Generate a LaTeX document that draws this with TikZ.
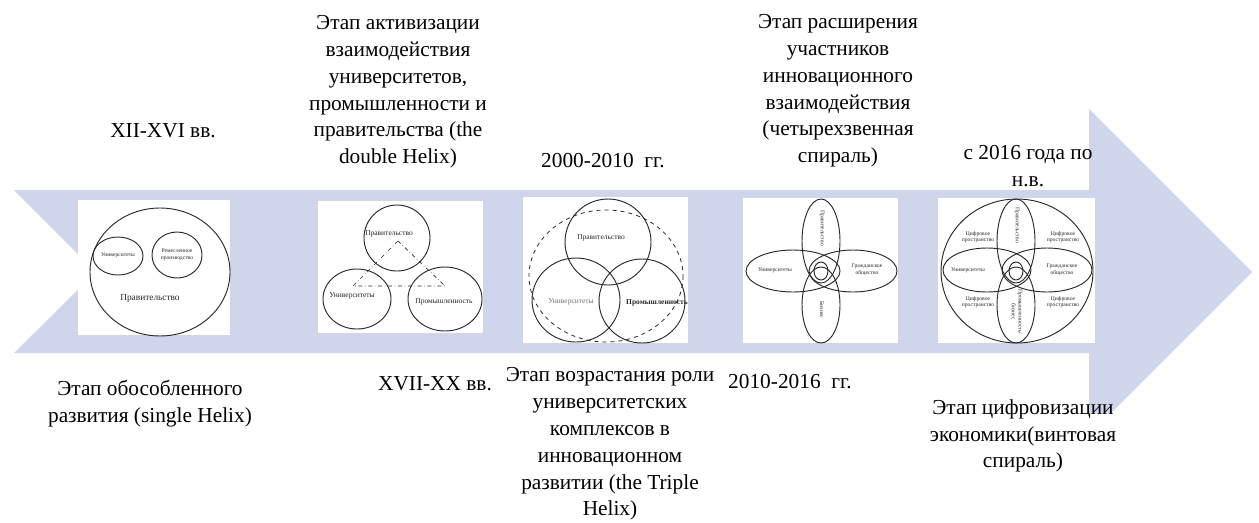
\documentclass[tikz,border=0pt]{standalone}
\usepackage{fontspec}
\setmainfont{Liberation Serif}
\definecolor{arrowfill}{RGB}{207,213,234}
\definecolor{ink}{RGB}{40,40,40}
\begin{document}
\begin{tikzpicture}[x=0.75pt,y=-0.75pt,
  lbl/.style={align=center,font=\fontsize{16}{20.1}\selectfont,inner sep=0pt},
  panel/.style={fill=white},
  ring/.style={draw=ink,line width=0.7pt},
  tinylbl/.style={font=\fontsize{4.2}{5}\selectfont,inner sep=0pt,align=center,text=ink},
  smalllbl/.style={font=\fontsize{5.6}{6.5}\selectfont,inner sep=0pt,align=center,text=ink},
]
\useasboundingbox (0,0) rectangle (1259,522);
\fill[white] (0,0) rectangle (1259,522);

% notched timeline arrow (lower tip of the head is cut off by the caption area)
\fill[arrowfill] (14,190) -- (1089,190) -- (1089,109) -- (1252,272) -- (1111,413)
  -- (1089,413) -- (1089,353) -- (14,353) -- (96,272) -- cycle;

% white picture panels
\fill[panel] (78,200) rectangle (230,335);
\fill[panel] (318,201) rectangle (483,333);
\fill[panel] (523,197) rectangle (688,343);
\fill[panel] (743,198) rectangle (898,343);
\fill[panel] (938,198) rectangle (1095,343);

% panel 1: single helix
\draw[ring] (160,272) ellipse [x radius=70, y radius=64];
\draw[ring] (118,256) ellipse [x radius=25, y radius=19];
\draw[ring] (177,255) ellipse [x radius=25, y radius=23];
\node[tinylbl] (s1u) at (118,255) {Университеты};
\node[tinylbl] (s1r) at (177,255) {Ремесленное\\производство};
\node[font=\fontsize{7}{8}\selectfont,inner sep=0pt,text=ink] (s1g) at (150,298) {Правительство};

% panel 2: double helix
\draw[ring] (397,238) circle [radius=33];
\draw[ring] (357,299) ellipse [x radius=34, y radius=30];
\draw[ring] (445,299) ellipse [x radius=37, y radius=32];
\coordinate (t2a) at (398,241);
\coordinate (t2b) at (353,286);
\coordinate (t2c) at (445,286);
\draw[ink,dash dot,line width=0.5pt] (t2a) -- (t2b) -- (t2c) -- cycle;
\node[smalllbl] (s2g) at (389,234) {Правительство};
\node[smalllbl] (s2u) at (352,296) {Университеты};
\node[smalllbl] (s2p) at (444,302) {Промышленность};

% panel 3: triple helix
\draw[ink,dashed,line width=0.6pt] (606,276) ellipse [x radius=77, y radius=66];
\draw[ring] (608,242) circle [radius=43];
\draw[ring] (576,300) ellipse [x radius=44, y radius=42];
\draw[ring] (642,301) ellipse [x radius=43, y radius=42];
\node[smalllbl] (s3g) at (601,238) {Правительство};
\node[smalllbl,text=black!55] (s3u) at (571,302) {Университеты};
\node[smalllbl,font=\bfseries\fontsize{5.6}{6.5}\selectfont] (s3p) at (657,303) {Промышленность};

% panel 4: quadruple helix
\draw[ring] (821,241) ellipse [x radius=19, y radius=42];
\draw[ring] (821,305) ellipse [x radius=19, y radius=38];
\draw[ring] (793,271) ellipse [x radius=47, y radius=21];
\draw[ring] (853,271) ellipse [x radius=44, y radius=21];
\draw[ring] (821,271) ellipse [x radius=7, y radius=9];
\node[tinylbl,rotate=-90] (s4g) at (822,228) {Правительство};
\node[tinylbl] (s4u) at (775,270) {Университеты};
\node[tinylbl] (s4c) at (867,270) {Гражданское\\общество};
\node[tinylbl,rotate=-90] (s4b) at (822,310) {Бизнес};

% panel 5: helical model
\draw[ring] (1017,271) ellipse [x radius=76, y radius=72];
\draw[ring] (1016,241) ellipse [x radius=19, y radius=42];
\draw[ring] (1016,305) ellipse [x radius=19, y radius=38];
\draw[ring] (987,270) ellipse [x radius=44, y radius=22];
\draw[ring] (1047,270) ellipse [x radius=45, y radius=22];
\draw[ring] (1016,271) ellipse [x radius=7, y radius=9];
\node[tinylbl] (s5d1) at (978,237) {Цифровое\\пространство};
\node[tinylbl] (s5d2) at (1063,237) {Цифровое\\пространство};
\node[tinylbl] (s5d3) at (978,302) {Цифровое\\пространство};
\node[tinylbl] (s5d4) at (1063,302) {Цифровое\\пространство};
\node[tinylbl,rotate=-90] (s5g) at (1017,225) {Правительство};
\node[tinylbl] (s5u) at (968,270) {Университеты};
\node[tinylbl] (s5c) at (1062,270) {Гражданское\\общество};
\node[tinylbl,rotate=-90] (s5b) at (1017,312) {Промышленность/\\бизнес};

% stage captions above the arrow
\node[lbl] (d1) at (163,131) {XII-XVI вв.};
\node[lbl] (e2) at (398,92) {Этап активизации\\взаимодействия\\университетов,\\промышленности и\\правительства (the\\double Helix)};
\node[lbl] (d3) at (603,161) {2000-2010\ \ гг.};
\node[lbl] (e4) at (838,91) {Этап расширения\\участников\\инновационного\\взаимодействия\\(четырехзвенная\\спираль)};
\node[lbl] (d5) at (1028,166) {с 2016 года по\\н.в.};

% stage captions below the arrow
\node[lbl] (e1) at (150,404) {Этап обособленного\\развития (single Helix)};
\node[lbl] (d2) at (435,384) {XVII-XX вв.};
\node[lbl] (e3) at (610,444) {Этап возрастания роли\\университетских\\комплексов в\\инновационном\\развитии (the Triple\\Helix)};
\node[lbl] (d4) at (790,382) {2010-2016\ \ гг.};
\node[lbl] (e5) at (1023,436) {Этап цифровизации\\экономики(винтовая\\спираль)};
\end{tikzpicture}
\end{document}
